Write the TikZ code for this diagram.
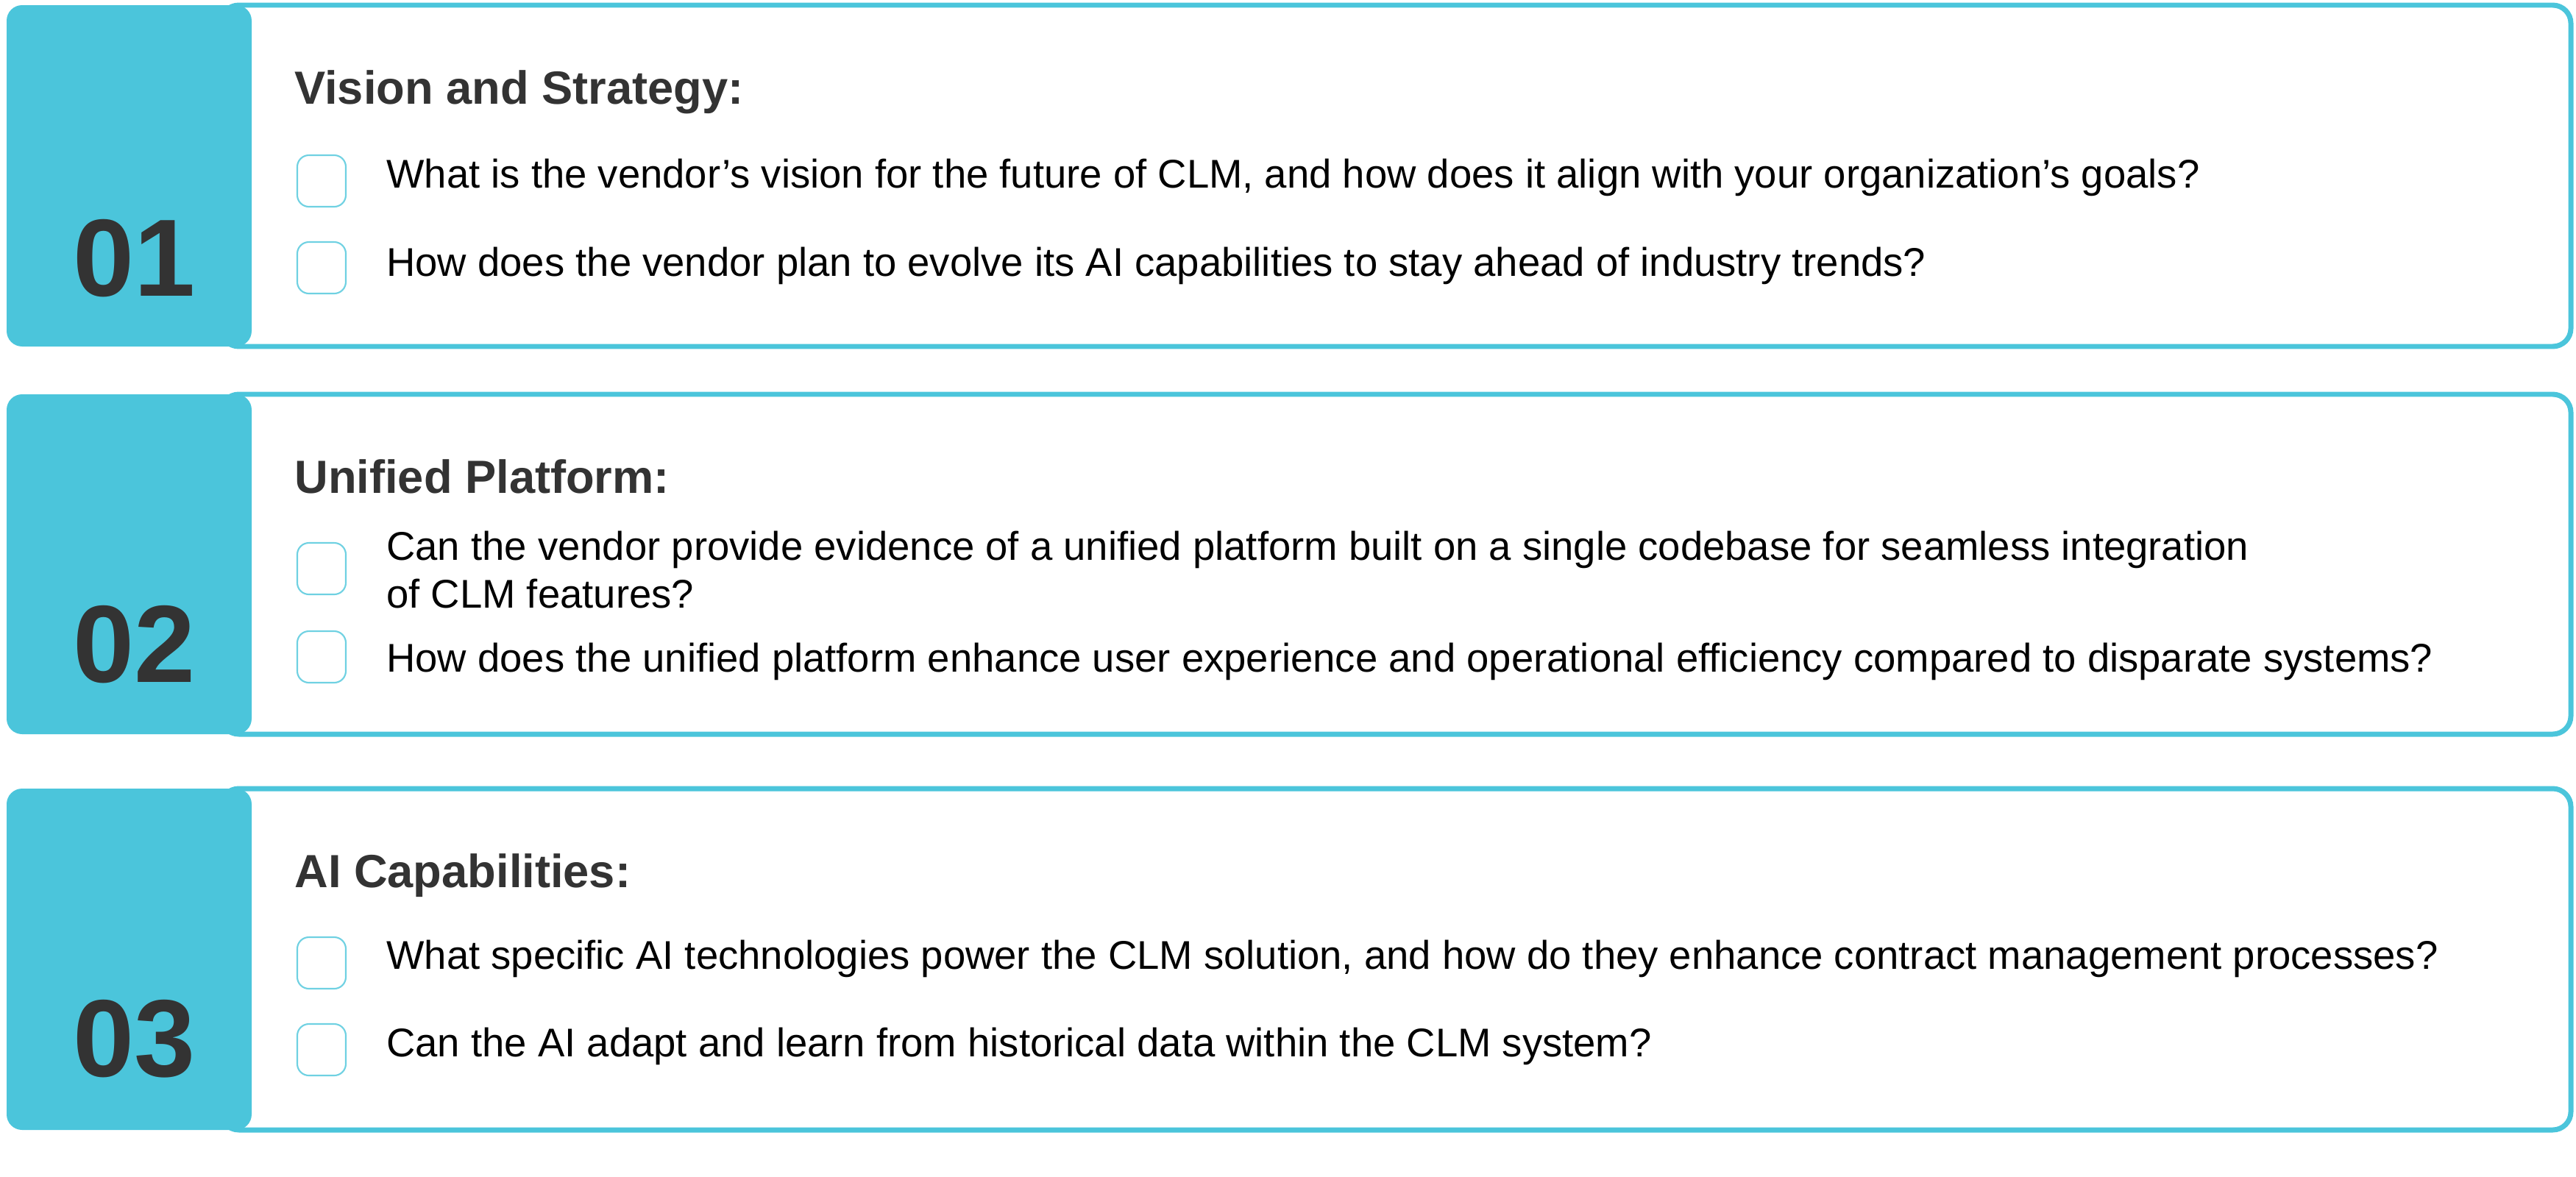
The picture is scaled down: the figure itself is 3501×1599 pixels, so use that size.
\documentclass[tikz,border=0pt]{standalone}
\usepackage{fontspec}
\setmainfont{Liberation Sans}
\definecolor{cyanb}{HTML}{4BC5DB}
\definecolor{dgray}{HTML}{333333}
\begin{document}
\begin{tikzpicture}[x=0.02cm,y=-0.02cm,
  frame/.style={draw=cyanb,line width=7*0.567pt,rounded corners=14pt,fill=white},
  block/.style={fill=cyanb,rounded corners=12pt},
  num/.style={anchor=base,font=\fontsize{85}{85}\selectfont\bfseries,text=dgray,inner sep=0},
  ttl/.style={anchor=base west,font=\fontsize{36}{40}\selectfont\bfseries,text=dgray,inner sep=0},
  body/.style={anchor=base west,font=\fontsize{31}{37}\selectfont,text=black,inner sep=0},
  cbox/.style={draw=cyanb!80,line width=1.2pt,rounded corners=9pt,minimum width=0.02cm*66,minimum height=0.02cm*70,inner sep=0}]
\useasboundingbox (0,0) rectangle (3501,1599);
% panel 1
\path[frame] (300,7) rectangle (3494,471);
\path[block] (9,7) rectangle (342,471);
\node[num] (n1) at (183,402) {01};
\node[ttl] (t1) at (400,141) {Vision and Strategy:};
\node[cbox] (c11) at (437,246) {};
\node[body] (b11) at (525,255) {What is the vendor’s vision for the future of CLM, and how does it align with your organization’s goals?};
\node[cbox] (c12) at (437,364) {};
\node[body] (b12) at (525,375) {How does the vendor plan to evolve its AI capabilities to stay ahead of industry trends?};
% panel 2
\path[frame] (300,536) rectangle (3494,998);
\path[block] (9,536) rectangle (342,998);
\node[num] (n2) at (183,927) {02};
\node[ttl] (t2) at (400,670) {Unified Platform:};
\node[cbox] (c21) at (437,773) {};
\node[body] (b21) at (525,761) {Can the vendor provide evidence of a unified platform built on a single codebase for seamless integration};
\node[body] (b21b) at (525,826) {of CLM features?};
\node[cbox] (c22) at (437,893) {};
\node[body] (b22) at (525,913) {How does the unified platform enhance user experience and operational efficiency compared to disparate systems?};
% panel 3
\path[frame] (300,1072) rectangle (3494,1536);
\path[block] (9,1072) rectangle (342,1536);
\node[num] (n3) at (183,1463) {03};
\node[ttl] (t3) at (400,1206) {AI Capabilities:};
\node[cbox] (c31) at (437,1309) {};
\node[body] (b31) at (525,1317) {What specific AI technologies power the CLM solution, and how do they enhance contract management processes?};
\node[cbox] (c32) at (437,1427) {};
\node[body] (b32) at (525,1436) {Can the AI adapt and learn from historical data within the CLM system?};
\end{tikzpicture}
\end{document}
